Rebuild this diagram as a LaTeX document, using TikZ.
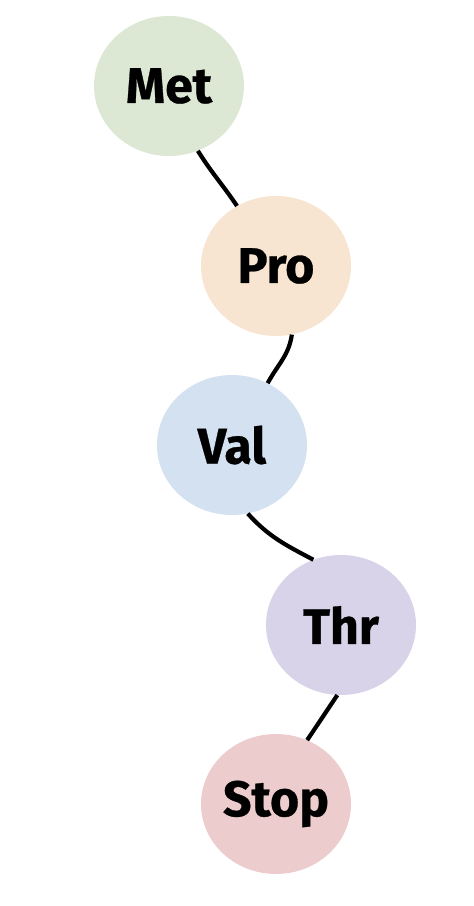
\documentclass[tikz,border=0pt]{standalone}
\usepackage{fontspec}
\setmainfont{Fira Sans}[BoldFeatures={FakeBold=0.6}]
\usetikzlibrary{shapes.geometric}
\definecolor{cmet}{HTML}{DCE8D4}
\definecolor{cpro}{HTML}{F8E5D1}
\definecolor{cval}{HTML}{D4E1F0}
\definecolor{cthr}{HTML}{D8D3E8}
\definecolor{cstop}{HTML}{ECCCCC}
\begin{document}
\begin{tikzpicture}[x=1pt,y=1pt,
  blob/.style={ellipse,draw=none,minimum width=150pt,minimum height=140pt,inner sep=0pt,
    font=\fontsize{50}{56}\selectfont\bfseries},
  link/.style={line width=4.2pt,draw=black}]
\useasboundingbox (0,0) rectangle (474,906);
\node[blob,fill=cmet]  (met)  at (169,820) {Met};
\node[blob,fill=cpro]  (pro)  at (276,640) {Pro};
\node[blob,fill=cval]  (val)  at (232,461) {Val};
\node[blob,fill=cthr]  (thr)  at (341,281) {Thr};
\node[blob,fill=cstop] (stop) at (276,102) {Stop};
\draw[link] (met.-66) to[out=-58,in=124] (pro.123);
\draw[link] (pro.-77) to[out=-98,in=62] (val.60);
\draw[link] (val.-77) to[out=-48,in=152] (thr.113);
\draw[link] (thr.-93) to[out=-124,in=56] (stop.64);
\end{tikzpicture}
\end{document}
